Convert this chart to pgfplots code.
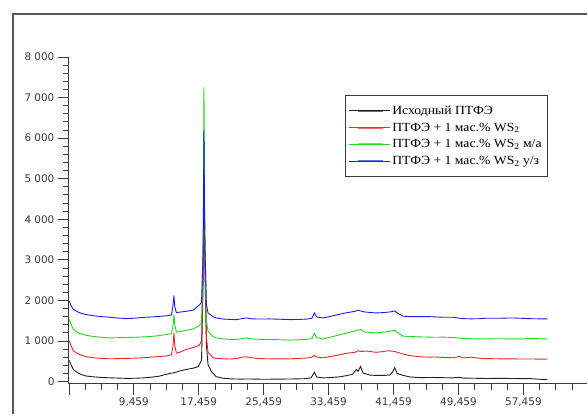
\documentclass[border=0pt]{standalone}
\usepackage{fontspec}
\setmainfont{Liberation Serif}
\newfontfamily\legfont[FakeStretch=1.1]{Liberation Serif}
\newfontfamily\dejavu{DejaVu Sans}
\usepackage{pgfplots}
\usepackage{pgfplotstable}
\pgfplotsset{compat=1.18}
\definecolor{cblack}{HTML}{202020}
\definecolor{cred}{HTML}{E82828}
\definecolor{cgreen}{HTML}{20D820}
\definecolor{cblue}{HTML}{1E1EE6}
\definecolor{axgray}{HTML}{3A3A3A}
\pgfplotstableread{
x y
1.5 520
1.7 420
2.0 300
2.5 220
3.0 170
3.6 135
4.5 115
5.5 100
6.5 92
7.5 85
8.5 78
9.5 80
10.5 88
11.5 105
12.5 128
13.3 170
14.0 205
14.4 215
15.1 260
16.0 300
16.8 330
17.4 370
17.8 520
18.0 2500
18.1 5400
18.2 3000
18.4 900
18.6 420
19.0 250
19.6 120
20.5 80
21.5 65
22.5 60
23.5 62
24.5 60
25.5 55
26.5 58
27.5 60
28.5 62
29.5 65
30.5 70
31.3 90
31.7 230
32.0 110
32.8 90
33.8 100
34.8 115
35.8 150
36.4 180
36.9 300
37.1 250
37.4 370
37.7 210
38.5 160
39.3 150
40.2 150
41.0 160
41.3 220
41.6 340
41.9 200
42.5 160
43.4 115
44.7 95
46.0 100
47.5 95
48.8 90
49.6 105
50.0 85
51.5 80
52.9 75
54.5 78
56.0 75
57.0 72
58.5 70
59.5 55
60.4 50
}\tblack
\pgfplotstableread{
x y
1.5 1000
1.7 900
2.0 760
2.5 690
3.0 650
3.6 610
4.5 585
5.5 570
6.5 560
7.5 565
8.5 570
9.5 575
10.6 585
11.5 600
12.5 615
13.5 630
14.1 660
14.3 900
14.4 1200
14.5 900
14.7 700
15.1 720
15.9 790
16.8 840
17.5 890
17.8 1000
18.0 2600
18.1 5800
18.2 3200
18.4 1100
18.6 720
19.2 590
19.6 570
20.5 560
21.3 555
22.1 565
22.8 600
23.3 610
24.0 585
25.0 565
26.2 560
27.5 560
28.7 560
29.8 570
30.8 580
31.4 600
31.7 640
32.0 600
32.8 585
33.8 620
34.8 660
35.8 700
36.7 720
37.1 760
37.4 740
38.2 750
39.3 720
40.3 740
40.8 760
41.6 740
42.6 680
43.4 640
44.7 610
45.8 600
46.5 605
47.5 595
48.8 585
49.6 620
50.0 580
51.0 600
52.0 575
52.9 565
54.5 560
56.0 560
57.0 555
58.5 555
60.4 550
}\tred
\pgfplotstableread{
x y
1.5 1530
1.7 1420
2.0 1290
2.5 1210
3.0 1170
3.6 1140
4.5 1110
5.5 1090
6.5 1075
7.5 1080
8.5 1085
9.5 1090
10.6 1100
11.5 1110
12.5 1130
13.5 1160
14.1 1180
14.3 1400
14.4 1650
14.5 1400
14.7 1220
15.9 1260
16.8 1300
17.5 1370
17.8 1450
18.0 3500
18.1 7250
18.2 4000
18.4 1500
18.6 1240
19.2 1110
19.6 1075
20.5 1050
21.3 1040
22.1 1035
23.3 1075
24.0 1050
25.0 1040
26.2 1034
27.5 1030
28.7 1020
29.8 1030
30.8 1040
31.4 1060
31.7 1190
32.0 1080
32.8 1050
33.8 1100
34.8 1150
35.8 1200
36.7 1250
37.1 1270
37.4 1280
37.9 1220
39.3 1200
40.3 1220
41.0 1240
41.6 1260
42.0 1200
42.6 1120
43.4 1110
44.7 1100
45.8 1095
46.8 1090
47.5 1095
48.8 1085
50.0 1060
51.0 1055
52.0 1050
52.9 1050
54.5 1055
56.0 1050
57.0 1050
58.5 1060
60.4 1050
}\tgreen
\pgfplotstableread{
x y
1.5 1990
1.7 1880
2.0 1780
2.5 1720
3.0 1680
3.6 1650
4.5 1620
5.5 1600
6.5 1585
7.5 1565
8.5 1550
9.5 1560
10.6 1580
11.5 1590
12.5 1605
13.5 1620
14.1 1640
14.3 1900
14.4 2120
14.5 1850
14.7 1700
15.9 1730
16.8 1760
17.5 1880
17.8 1950
18.0 3200
18.1 6200
18.2 3500
18.4 1900
18.6 1690
19.2 1600
19.6 1567
20.5 1540
21.3 1530
22.1 1526
23.3 1567
24.0 1545
25.0 1540
26.2 1543
27.5 1535
28.7 1526
29.8 1530
30.8 1540
31.4 1560
31.7 1690
32.0 1590
32.8 1567
33.8 1610
34.8 1660
35.8 1700
36.7 1730
37.1 1760
37.4 1740
37.9 1714
39.3 1690
40.3 1700
41.0 1714
41.6 1740
42.0 1680
42.6 1610
43.4 1600
44.7 1600
45.8 1600
46.8 1590
47.5 1585
48.8 1583
50.0 1550
51.0 1545
52.0 1548
52.9 1560
54.5 1560
56.0 1567
57.0 1560
58.5 1548
60.4 1543
}\tblue
\begin{document}
\begin{tikzpicture}[x=1bp,y=1bp]
\path (-69,-31) rectangle (519,384);
\draw[line width=1.5bp, color=axgray!85] (-56,-31) -- (-56,370) -- (519,370);
\begin{axis}[
  at={(0,0)}, anchor=south west,
  scale only axis, width=519bp, height=327bp,
  xmin=1.459, xmax=65.33, ymin=-49, ymax=8000,
  axis lines=left, axis line style={-, axgray, line width=0.9bp},
  xtick={1.459,9.459,17.459,25.459,33.459,41.459,49.459,57.459},
  xticklabels={{},{9,459},{17,459},{25,459},{33,459},{41,459},{49,459},{57,459}},
  minor xtick={3.459,5.459,...,63.459},
  ytick={0,1000,...,8000},
  yticklabels={0,1 000,2 000,3 000,4 000,5 000,6 000,7 000,8 000},
  minor ytick={200,400,...,7800},
  tick align=outside,
  major tick length=11bp, minor tick length=6bp,
  every tick/.style={axgray, line width=0.8bp},
  tick label style={font=\dejavu\fontsize{10.5}{12}\selectfont, text=axgray},
  clip=false,
  legend cell align=left,
  legend image code/.code={\path (-9bp,0bp) -- (32bp,0bp); \draw[#1, line width=1.8bp, draw opacity=0.65] plot coordinates {(0bp,0bp) (12bp,0bp) (25bp,0bp)};},
  legend style={at={(0.5318,0.8838)}, anchor=north west, draw=axgray, line width=0.8bp,
    fill=white, inner xsep=4bp, inner ysep=9bp, row sep=4bp,
    font=\legfont\fontsize{12.5}{14}\selectfont,
    nodes={inner sep=1.5bp}},
]
\addplot[cblack, line width=0.9bp] table[x=x,y=y] {\tblack};
\addlegendentry{Исходный ПТФЭ}
\addplot[cred, line width=0.9bp] table[x=x,y=y] {\tred};
\addlegendentry{ПТФЭ + 1 мас.\% WS\textsubscript{2}}
\addplot[cgreen, line width=0.9bp] table[x=x,y=y] {\tgreen};
\addlegendentry{ПТФЭ + 1 мас.\% WS\textsubscript{2} м/а}
\addplot[cblue, line width=0.9bp] table[x=x,y=y] {\tblue};
\addlegendentry{ПТФЭ + 1 мас.\% WS\textsubscript{2} у/з}
\end{axis}
\end{tikzpicture}
\end{document}
